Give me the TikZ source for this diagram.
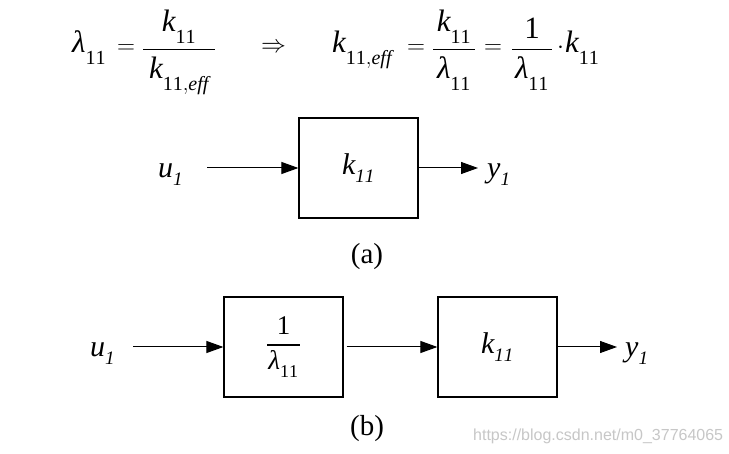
\documentclass[tikz,border=0pt]{standalone}
\usepackage{amsmath}
\usepackage{fontspec}
\setmainfont{Liberation Serif}
\newfontfamily\wmfont{Liberation Sans}
\usetikzlibrary{arrows.meta}
\DeclareMathSizes{31}{31}{20}{14}
\DeclareMathSizes{30}{30}{19}{14}
\DeclareMathSizes{27}{27}{18}{12}
\newcommand\ik{\mathit{k}}
\newcommand\lam{\text{\itshape λ}}
\newcommand\eleven{\mathrm{11}}
\newcommand\topdrop{\fontdimen16\textfont2=12pt \fontdimen17\textfont2=12pt }
\newcommand\boxdrop{\fontdimen16\textfont2=8pt \fontdimen17\textfont2=8pt }
\newcommand\barthick{\fontdimen8\textfont3=1.8pt }
\newcommand\keff{\ik_{\mathrm{11,}\mathit{eff}}}
\newcommand\lown[1]{\raisebox{-6pt}{$\topdrop #1$}}
\tikzset{
  eqf/.style={font=\fontsize{31}{37}\selectfont, inner sep=0pt},
  big/.style={font=\fontsize{30}{36}\selectfont, inner sep=0pt},
  mid/.style={font=\fontsize{27}{32}\selectfont, inner sep=0pt},
  blk/.style={draw, line width=1.2pt, minimum width=119pt, minimum height=100pt, inner sep=0pt},
  arr/.style={-{Triangle[length=17pt,width=12pt]}, line width=1pt},
}
\begin{document}
\begin{tikzpicture}[x=1pt,y=-1pt]
\useasboundingbox[fill=white] (0,0) rectangle (729,454);
% top equation, left part
\node[eqf, anchor=base west] (lamL) at (72,53) {$\topdrop\lam_{\eleven}$};
\node[eqf, anchor=center] (eq1) at (126,49) {$=$};
\node[eqf, anchor=base] (F1) at (179,55.75) {$\topdrop\barthick\dfrac{\makebox[72pt]{$\topdrop\ik_{\eleven}$}}{\lown{\keff}}$};
\node[font=\fontsize{37}{40}\selectfont, inner sep=0pt, anchor=center] (impl) at (273.5,48) {$\Rightarrow$};
% top equation, right part
\node[eqf, anchor=base west] (kL) at (332,53) {$\topdrop\keff$};
\node[eqf, anchor=center] (eq2) at (416,49) {$=$};
\node[eqf, anchor=base] (F2) at (454,55.75) {$\topdrop\barthick\dfrac{\makebox[42pt]{$\topdrop\ik_{\eleven}$}}{\lown{\lam_{\eleven}}}$};
\node[eqf, anchor=center] (eq3) at (493,49) {$=$};
\node[eqf, anchor=base] (F3) at (532,55.75) {$\topdrop\barthick\dfrac{\makebox[40pt]{1}}{\lown{\lam_{\eleven}}}$};
\node[eqf, anchor=base] (dot) at (560.5,54) {$\cdot$};
\node[eqf, anchor=base west] (kR) at (565,53) {$\topdrop\ik_{\eleven}$};
% diagram (a)
\node[blk, big] (A) at (358.5,168) {$\boxdrop\ik_{\mathit{11}}$};
\node[big, anchor=base west] (ua) at (158,178) {$\boxdrop\mathit{u}_{\mathit{1}}$};
\node[big, anchor=base west] (ya) at (487,178) {$\boxdrop\mathit{y}_{\mathit{1}}$};
\coordinate (ain) at (207,168);
\coordinate (aout) at (478,168);
\draw[arr] (ain) -- (A.west);
\draw[arr] (A.east) -- (aout);
\node[font=\fontsize{29}{34}\selectfont, inner sep=0pt] (la) at (367,257) {(a)};
% diagram (b)
\node[blk, mid] (B1) at (283.5,347) {$\fontdimen8\textfont3=1.6pt \dfrac{\makebox[33pt]{1}}{\lam_{\eleven}}$};
\node[blk, big] (B2) at (497.5,347) {$\boxdrop\ik_{\mathit{11}}$};
\node[big, anchor=base west] (ub) at (90,357) {$\boxdrop\mathit{u}_{\mathit{1}}$};
\node[big, anchor=base west] (yb) at (625,357) {$\boxdrop\mathit{y}_{\mathit{1}}$};
\coordinate (bin) at (133,347);
\coordinate (bout) at (617,347);
\draw[arr] (bin) -- (B1.west);
\draw[arr, shorten <=3pt] (B1.east) -- (B2.west);
\draw[arr] (B2.east) -- (bout);
\node[font=\fontsize{29}{34}\selectfont, inner sep=0pt] (lb) at (367,429) {(b)};
% watermark
\node[font=\wmfont\fontsize{16}{16}\selectfont, text=black!22, anchor=base west, inner sep=0pt] (wm) at (473,441) {https://blog.csdn.net/m0\_37764065};
\end{tikzpicture}
\end{document}
